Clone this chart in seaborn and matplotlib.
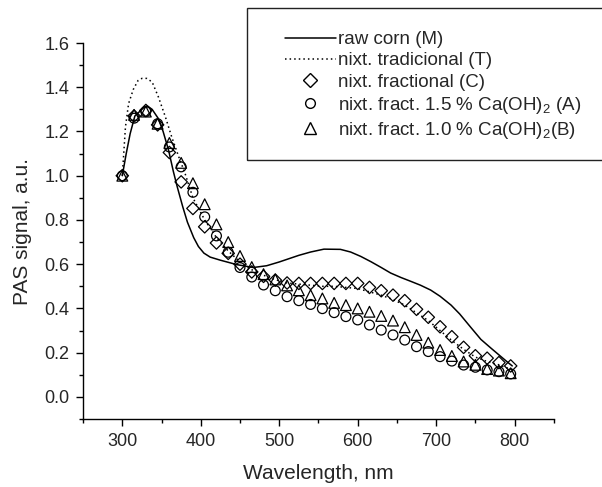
import numpy as np
import seaborn as sns
import matplotlib.pyplot as plt
from matplotlib.lines import Line2D
from matplotlib.patches import Rectangle

# wavelengths of the marker series (nm)
wl = list(range(300, 800, 15))

# nixt. fractional (C) - diamonds
frac_c = [1.00, 1.27, 1.295, 1.23, 1.105, 0.972, 0.852, 0.769, 0.696, 0.649,
          0.60, 0.565, 0.545, 0.528, 0.515, 0.513, 0.513, 0.513, 0.513, 0.513,
          0.513, 0.495, 0.48, 0.46, 0.435, 0.396, 0.36, 0.317, 0.272, 0.224,
          0.186, 0.175, 0.155, 0.14]
# nixt. fract. 1.5 % Ca(OH)2 (A) - circles
frac_a = [1.00, 1.26, 1.29, 1.235, 1.13, 1.04, 0.925, 0.814, 0.728, 0.654,
          0.585, 0.542, 0.506, 0.48, 0.453, 0.435, 0.418, 0.399, 0.381, 0.363,
          0.348, 0.325, 0.302, 0.28, 0.257, 0.227, 0.205, 0.182, 0.162, 0.144,
          0.134, 0.122, 0.114, 0.104]
# nixt. fract. 1.0 % Ca(OH)2 (B) - triangles
frac_b = [1.00, 1.275, 1.29, 1.235, 1.148, 1.058, 0.966, 0.871, 0.78, 0.70,
          0.637, 0.587, 0.555, 0.531, 0.504, 0.482, 0.46, 0.445, 0.425, 0.415,
          0.40, 0.385, 0.366, 0.345, 0.315, 0.28, 0.245, 0.212, 0.185, 0.16,
          0.145, 0.126, 0.119, 0.107]

# raw corn (M) - solid line
raw_x = [300, 305, 310, 316, 322, 328, 332, 338, 346, 352, 359, 365, 370, 377,
         383, 391, 397, 404, 412, 425, 446, 467, 484, 500, 510, 525, 540, 557,
         578, 591, 604, 617, 630, 642, 655, 668, 680, 693, 705, 719, 730, 744,
         757, 770, 780, 790, 797]
raw_y = [1.00, 1.10, 1.19, 1.27, 1.29, 1.31, 1.315, 1.30, 1.258, 1.20, 1.115,
         1.02, 0.95, 0.86, 0.79, 0.72, 0.68, 0.65, 0.632, 0.618, 0.598, 0.585,
         0.593, 0.61, 0.622, 0.64, 0.655, 0.668, 0.667, 0.655, 0.635, 0.611,
         0.585, 0.56, 0.54, 0.522, 0.505, 0.483, 0.455, 0.415, 0.375, 0.315,
         0.26, 0.22, 0.19, 0.16, 0.14]

# nixt. tradicional (T) - dotted line
trad_x = [300, 304, 308, 314, 320, 325, 331, 338, 346, 355, 363, 372, 380, 390,
          405, 420, 435, 450, 465, 480, 495, 510, 525, 540, 555, 570, 585, 600,
          615, 630, 645, 660, 675, 690, 705, 720, 735, 750, 765, 780, 795]
trad_y = [1.00, 1.22, 1.326, 1.39, 1.43, 1.44, 1.44, 1.424, 1.356, 1.265, 1.175,
          1.085, 1.01, 0.90, 0.80, 0.72, 0.66, 0.61, 0.575, 0.55, 0.53, 0.515,
          0.51, 0.505, 0.50, 0.50, 0.495, 0.49, 0.475, 0.46, 0.44, 0.415, 0.38,
          0.345, 0.30, 0.255, 0.215, 0.18, 0.16, 0.145, 0.125]

labels = ['raw corn (M)', 'nixt. tradicional (T)', 'nixt. fractional (C)',
          'nixt. fract. 1.5 % Ca(OH)$_2$ (A)', 'nixt. fract. 1.0 % Ca(OH)$_2$(B)']

sns.set_style('ticks')
plt.rcParams['font.family'] = ['Liberation Sans', 'DejaVu Sans']
plt.rcParams['mathtext.fontset'] = 'custom'
plt.rcParams['mathtext.rm'] = 'Liberation Sans'
plt.rcParams['mathtext.it'] = 'Liberation Sans'

fig = plt.figure(figsize=(6.02, 4.87), dpi=100)
ax = fig.add_axes([0.138, 0.1396, 0.782, 0.7721])

sns.lineplot(x=raw_x, y=raw_y, color='black', lw=1.1, sort=False, estimator=None, ax=ax)
sns.lineplot(x=trad_x, y=trad_y, color='black', lw=1.1, linestyle=(0, (1, 2)),
             sort=False, estimator=None, ax=ax)

mk = dict(color='black', facecolor='none', edgecolor='black', linewidth=0.9, zorder=3)
sns.scatterplot(x=wl, y=frac_c, marker='D', s=40, ax=ax, **mk)
sns.scatterplot(x=wl, y=frac_a, marker='o', s=50, ax=ax, **mk)
sns.scatterplot(x=wl, y=frac_b, marker='^', s=60, ax=ax, **mk)

ax.set_xlim(250, 850)
ax.set_ylim(-0.1, 1.6)
ax.set_xticks(range(300, 801, 100))
ax.set_xticks(range(250, 851, 100), minor=True)
ax.set_yticks(np.arange(0, 1.61, 0.2))
ax.set_yticks(np.arange(-0.1, 1.61, 0.1), minor=True)
ax.set_yticklabels([f'{v:.1f}' for v in np.arange(0, 1.61, 0.2)])
ax.tick_params(which='major', length=5, width=1, labelsize=13, pad=5, color='black')
ax.tick_params(which='minor', length=3, width=1, color='black')
for s in ['left', 'bottom']:
    ax.spines[s].set_linewidth(1)
    ax.spines[s].set_color('black')
sns.despine(ax=ax)

ax.set_xlabel('Wavelength, nm', fontsize=15, labelpad=10)
ax.set_ylabel('PAS signal, a.u.', fontsize=15, labelpad=9)

handles = [
    Line2D([], [], color='black', lw=1.1),
    Line2D([], [], color='black', lw=1.1, linestyle=(0, (1, 2))),
    Line2D([], [], marker='D', ms=7, mfc='none', mec='black', ls='none'),
    Line2D([], [], marker='o', ms=7, mfc='none', mec='black', ls='none'),
    Line2D([], [], marker='^', ms=8, mfc='none', mec='black', ls='none'),
]
fig.legend(handles, labels, loc='upper left', bbox_to_anchor=(285 / 602, 1 - 31 / 487),
           frameon=False, fontsize=13.5, handlelength=2.7, handletextpad=0.15,
           labelspacing=0.22, borderpad=0, borderaxespad=0)
fig.patches.append(Rectangle((247 / 602, 1 - 160 / 487), 0.7, 152 / 487, fill=False,
                             edgecolor='#222222', lw=1, transform=fig.transFigure))

fig.savefig('out.png', dpi=100)
